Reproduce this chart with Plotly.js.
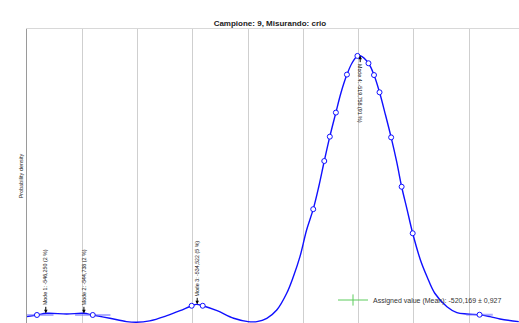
<!DOCTYPE html>
<html>
<head>
<meta charset="utf-8">
<script src="https://cdn.plot.ly/plotly-3.0.1.min.js"></script>
<style>
html,body{margin:0;padding:0;background:#fff;}
#chart{width:519px;height:323px;}
</style>
</head>
<body>
<div id="chart"></div>
<script>
// Kernel density curve (measurand value vs probability density)
var curveX = [-550.0,-549.1,-548.2,-546.4,-544.9,-544.05,-542.5,-541.0,-540.1,-538.9,-537.4,-536.15,-535.1,-534.65,-534.1,-532.8,-531.3,-530.0,-529.2,-528.3,-527.4,-526.5,-525.9,-525.3,-524.7,-524.1,-523.6,-523.1,-522.6,-522.05,-521.6,-521.05,-520.6,-520.1,-519.85,-519.1,-518.6,-518.1,-517.6,-517.05,-516.55,-516.1,-515.6,-515.1,-514.4,-513.8,-513.1,-512.0,-511.1,-510.2,-509.05,-508.1,-507.2,-505.5];
var curveY = [0.0027,0.0034,0.0041,0.0038,0.0041,0.0034,0.0020,0.0006,0.0003,0.0009,0.0030,0.0052,0.0073,0.0079,0.0073,0.0052,0.0020,0.0006,0.0006,0.0020,0.0055,0.0126,0.0196,0.0281,0.0394,0.0482,0.0577,0.0686,0.0789,0.0891,0.0973,0.1052,0.1100,0.1131,0.1132,0.1100,0.1050,0.0977,0.0888,0.0786,0.0683,0.0577,0.0479,0.0380,0.0267,0.0196,0.0126,0.0069,0.0044,0.0038,0.0035,0.0027,0.0017,0.0006];

// Participant results shown as markers on the curve
var ptX = [-549.1,-544.05,-535.1,-534.1,-524.1,-523.1,-522.6,-522.05,-521.05,-520.1,-519.1,-518.6,-518.1,-517.05,-516.1,-515.1,-509.05];
var ptY = [0.0034,0.0034,0.0073,0.0073,0.0482,0.0686,0.0789,0.0891,0.1052,0.1131,0.1100,0.1050,0.0977,0.0786,0.0577,0.0380,0.0035];
var ptErr = [1.5,1.6,0,0,0,0,0,0,0,0,0,0,0,0,0,0,1.2];

// Modes
var modeX = [-548.3,-544.85,-534.6,-519.85];
var modeY = [0.0041,0.0041,0.0079,0.1132];
var modeLabels = ['Mode 1: -546,250 (2 %)','Mode 2: -544,738 (2 %)','Mode 3: -534,522 (5 %)','Mode 4: -519,758 (91 %)'];

var assignedLabel = 'Assigned value (Mean): -520,169 ± 0,927';
var titleText = 'Campione: 9, Misurando: crio';
var yTitle = 'Probability density';

var narrow = 'Liberation Sans Narrow, Arial Narrow, Liberation Sans, Arial, sans-serif';

var traces = [
  {x: curveX, y: curveY, mode: 'lines', line: {color: '#1010ff', width: 1.4, shape: 'spline'}, showlegend: false, hoverinfo: 'skip'},
  {x: ptX, y: ptY, mode: 'markers', showlegend: false,
   marker: {symbol: 'circle', size: 5, color: '#ffffff', line: {color: '#1010ff', width: 1}},
   error_x: {type: 'data', array: ptErr, visible: true, color: 'rgba(110,110,255,0.55)', thickness: 2, width: 0}},
  {x: [null], y: [null], mode: 'lines+markers', name: assignedLabel, showlegend: true,
   line: {color: '#5ccc5c', width: 1}, marker: {symbol: 'line-ns', size: 8, color: '#5ccc5c', line: {color: '#5ccc5c', width: 1}}}
];

var annotations = [];
for (var i = 0; i < modeX.length; i++) {
  var up = i === 3;
  annotations.push({x: modeX[i], y: modeY[i], xref: 'x', yref: 'y', text: '', showarrow: true,
    ax: 0, ay: up ? 8 : -8, arrowhead: 2, arrowsize: 0.7, arrowwidth: 1, arrowcolor: '#000'});
  annotations.push({x: modeX[i], y: modeY[i], xref: 'x', yref: 'y', text: modeLabels[i], showarrow: false,
    textangle: up ? 90 : -90, xanchor: 'center', yanchor: up ? 'top' : 'bottom', yshift: up ? -7 : 7,
    font: {family: narrow, size: 5.3, color: '#111'}, borderpad: 0});
}

var layout = {
  width: 519, height: 323,
  margin: {l: 27, r: 0, t: 29, b: 0, pad: 0},
  paper_bgcolor: '#ffffff', plot_bgcolor: '#ffffff',
  title: {text: titleText, font: {family: 'Liberation Sans, Arial, sans-serif', size: 8, color: '#222', weight: 'bold'},
          x: 0.52, xanchor: 'center', y: 1 - 23/323, yanchor: 'middle'},
  xaxis: {range: [-550, -505.48], tick0: -550, dtick: 5, showticklabels: false, ticks: '',
          showgrid: true, gridcolor: '#cfcfcf', gridwidth: 1, zeroline: false,
          showline: true, mirror: true, linecolor: '#d8d8d8', linewidth: 1, fixedrange: true},
  yaxis: {range: [0, 0.1245], showticklabels: false, ticks: '', showgrid: false, zeroline: false,
          showline: true, linecolor: '#9a9a9a', linewidth: 1, fixedrange: true,
          title: {text: yTitle, font: {family: narrow, size: 5.5, color: '#222'}, standoff: 2}},
  showlegend: true,
  legend: {x: (333 - 27) / 492, xanchor: 'left', y: (323 - 300) / 294, yanchor: 'middle',
           bgcolor: 'rgba(0,0,0,0)', borderwidth: 0, itemwidth: 30,
           font: {family: 'Liberation Sans, Arial, sans-serif', size: 7, color: '#333'}},
  annotations: annotations
};

Plotly.newPlot('chart', traces, layout, {staticPlot: true, displayModeBar: false});
</script>
</body>
</html>
